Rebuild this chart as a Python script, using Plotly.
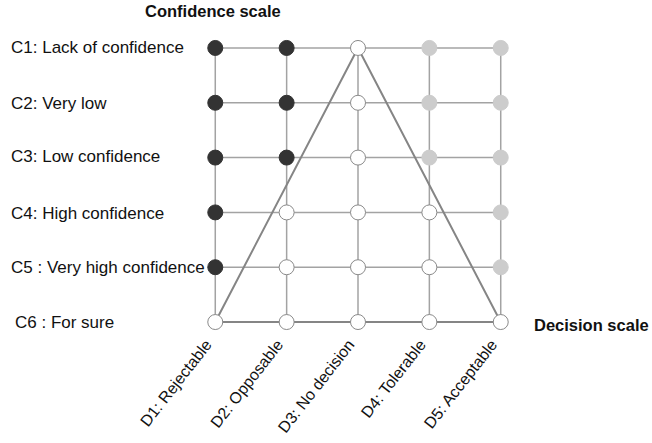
import plotly.graph_objects as go

decisions = ["D1: Rejectable", "D2: Opposable", "D3: No decision", "D4: Tolerable", "D5: Acceptable"]
confidences = ["C1: Lack of confidence", "C2: Very low", "C3: Low confidence",
               "C4: High confidence", "C5 : Very high confidence", "C6 : For sure"]
# state per (confidence row, decision column): 2 = dark, 1 = light grey, 0 = open
states = [
    [2, 2, 0, 1, 1],
    [2, 2, 0, 1, 1],
    [2, 2, 0, 1, 1],
    [2, 0, 0, 0, 1],
    [2, 0, 0, 0, 1],
    [0, 0, 0, 0, 0],
]
triangle_cols = [0, 2, 4, 0]
triangle_rows = [5, 0, 5, 5]

FONT = "Helvetica, Arial, Liberation Sans, sans-serif"
GRID = "#a3a3a3"

W, H = 652, 443
L_PX, R_PX, T_PX, B_PX = 201.4, 515.3, 37.4, 332.6


def px2paper(x, y):
    return (x - L_PX) / (R_PX - L_PX), (B_PX - y) / (B_PX - T_PX)


fig = go.Figure()
xs = list(range(len(decisions)))
ys = list(range(len(confidences)))

for r in ys:
    fig.add_trace(go.Scatter(x=[xs[0], xs[-1]], y=[r, r], mode="lines",
                             line=dict(color=GRID, width=1.5), hoverinfo="skip", showlegend=False))
for c in xs:
    fig.add_trace(go.Scatter(x=[c, c], y=[ys[0], ys[-1]], mode="lines",
                             line=dict(color=GRID, width=1.5), hoverinfo="skip", showlegend=False))

fig.add_trace(go.Scatter(x=triangle_cols, y=triangle_rows, mode="lines",
                         line=dict(color="#858585", width=2), hoverinfo="skip", showlegend=False))

styles = {
    2: dict(color="#333333", line=dict(color="#333333", width=1)),
    1: dict(color="#cccccc", line=dict(color="#cccccc", width=1)),
    0: dict(color="#ffffff", line=dict(color="#8a8a8a", width=1)),
}
for s, st in styles.items():
    px, py = [], []
    for r in ys:
        for c in xs:
            if states[r][c] == s:
                px.append(c)
                py.append(r)
    fig.add_trace(go.Scatter(x=px, y=py, mode="markers", cliponaxis=False,
                             marker=dict(size=15, color=st["color"], line=st["line"]),
                             showlegend=False))

row_px = [48.3, 103.3, 156.7, 213.3, 267.3, 321.7]
for r, lab in enumerate(confidences):
    ax, ay = px2paper(13 if r == 5 else 9, row_px[r])
    fig.add_annotation(x=ax, y=ay, xref="paper", yref="paper", text=lab,
                       showarrow=False, xanchor="left", yanchor="middle",
                       font=dict(size=17, color="#111111", family=FONT))

ax, ay = px2paper(143, 11)
fig.add_annotation(x=ax, y=ay, xref="paper", yref="paper",
                   text="<b>Confidence scale</b>", showarrow=False, xanchor="left", yanchor="middle",
                   font=dict(size=16.5, color="#111111", family=FONT))
ax, ay = px2paper(532, 324.5)
fig.add_annotation(x=ax, y=ay, xref="paper", yref="paper",
                   text="<b>Decision scale</b>", showarrow=False, xanchor="left", yanchor="middle",
                   font=dict(size=16.5, color="#111111", family=FONT))

fig.update_xaxes(range=[-0.2, 4.2], tickvals=xs, ticktext=decisions, tickangle=-52,
                 showgrid=False, zeroline=False, showline=False, ticks="", automargin=False,
                 ticklabelshift=-9, ticklabelstandoff=-2,
                 tickfont=dict(size=16, color="#111111", family=FONT))
fig.update_yaxes(range=[5.2, -0.2], showticklabels=False, showgrid=False, automargin=False,
                 zeroline=False, showline=False, ticks="")

fig.update_layout(width=W, height=H,
                  margin=dict(l=L_PX, r=W - R_PX, t=T_PX, b=H - B_PX, autoexpand=False),
                  plot_bgcolor="white", paper_bgcolor="white", font=dict(family=FONT))
fig.write_html("out.html", config={"displayModeBar": False},
               post_script="document.body.style.margin='0px';")
